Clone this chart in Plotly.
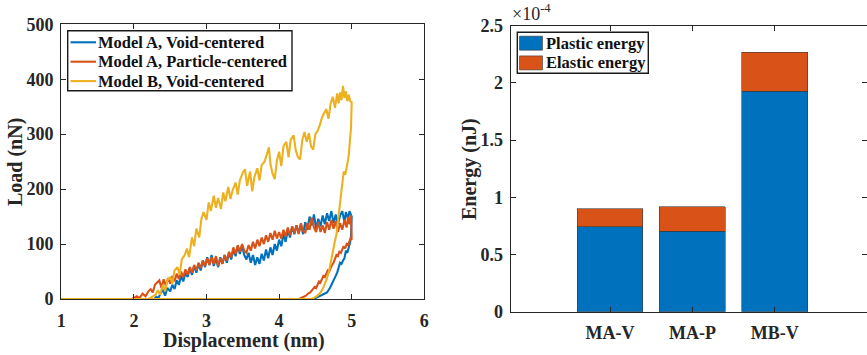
import plotly.graph_objects as go

# ---------------- Left panel data (Load vs Displacement) ----------------
mav_x = [1.0, 2.28, 2.31, 2.34, 2.37, 2.40, 2.43, 2.46, 2.50, 2.53, 2.56, 2.59, 2.62, 2.65, 2.68, 2.71, 2.74, 2.77, 2.80, 2.83, 2.86, 2.89, 2.92, 2.95, 2.98, 3.01, 3.04, 3.07, 3.10, 3.13, 3.16, 3.19, 3.22, 3.25, 3.28, 3.31, 3.34, 3.37, 3.40, 3.43, 3.46, 3.49, 3.52, 3.55, 3.58, 3.61, 3.64, 3.67, 3.70, 3.73, 3.76, 3.79, 3.82, 3.85, 3.88, 3.91, 3.94, 3.97, 4.00, 4.03, 4.06, 4.09, 4.12, 4.15, 4.18, 4.21, 4.24, 4.27, 4.30, 4.33, 4.36, 4.39, 4.42, 4.45, 4.48, 4.51, 4.54, 4.57, 4.60, 4.63, 4.66, 4.69, 4.72, 4.75, 4.78, 4.81, 4.84, 4.87, 4.90, 4.92, 4.95, 4.97, 5.00,
         5.00, 4.99, 4.98, 4.96, 4.94, 4.92, 4.90, 4.88, 4.86, 4.84, 4.82, 4.80, 4.78, 4.76, 4.74, 4.72, 4.70, 4.68, 4.66, 4.63, 4.60, 4.57, 4.54, 4.51, 4.47, 1.0]
mav_y = [0, 0, 4, 2, 12, 16, 6, 20, 14, 26, 18, 34, 26, 42, 32, 48, 40, 56, 44, 60, 48, 64, 52, 70, 58, 76, 62, 80, 60, 74, 58, 76, 64, 80, 66, 84, 72, 90, 78, 96, 82, 98, 80, 72, 84, 66, 80, 62, 76, 64, 82, 70, 90, 74, 94, 80, 100, 88, 108, 96, 118, 104, 126, 112, 132, 118, 134, 120, 136, 118, 140, 126, 150, 134, 154, 128, 146, 132, 152, 136, 156, 142, 160, 138, 154, 136, 152, 160, 140, 158, 146, 160, 150,
         130, 112, 104, 96, 84, 88, 74, 70, 64, 66, 54, 48, 42, 36, 30, 24, 20, 16, 12, 10, 8, 5, 4, 2, 0, 0]

map_x = [1.0, 1.97, 2.00, 2.04, 2.08, 2.12, 2.16, 2.20, 2.23, 2.26, 2.29, 2.32, 2.35, 2.38, 2.41, 2.44, 2.47, 2.50, 2.53, 2.56, 2.59, 2.62, 2.65, 2.68, 2.71, 2.74, 2.77, 2.80, 2.83, 2.86, 2.89, 2.92, 2.95, 2.98, 3.01, 3.04, 3.07, 3.10, 3.13, 3.16, 3.19, 3.22, 3.25, 3.28, 3.31, 3.34, 3.37, 3.40, 3.43, 3.46, 3.49, 3.52, 3.55, 3.58, 3.61, 3.64, 3.67, 3.70, 3.73, 3.76, 3.79, 3.82, 3.85, 3.88, 3.91, 3.94, 3.97, 4.00, 4.03, 4.06, 4.09, 4.12, 4.15, 4.18, 4.21, 4.24, 4.27, 4.30, 4.33, 4.36, 4.39, 4.42, 4.45, 4.48, 4.51, 4.54, 4.57, 4.60, 4.63, 4.66, 4.69, 4.72, 4.75, 4.78, 4.81, 4.84, 4.87, 4.90, 4.93, 4.95, 4.97, 4.99, 5.00, 5.00,
         4.99, 4.97, 4.95, 4.93, 4.91, 4.89, 4.87, 4.85, 4.83, 4.81, 4.79, 4.77, 4.75, 4.73, 4.71, 4.69, 4.67, 4.65, 4.63, 4.61, 4.59, 4.57, 4.55, 4.53, 4.51, 4.49, 4.46, 4.43, 4.40, 4.37, 4.34, 4.31, 4.27, 1.0]
map_y = [0, 0, 2, 5, 2, 10, 5, 14, 18, 12, 26, 30, 34, 20, 36, 24, 38, 28, 42, 32, 46, 36, 50, 40, 54, 44, 58, 48, 62, 52, 66, 56, 70, 60, 74, 62, 76, 64, 78, 60, 74, 64, 80, 70, 86, 76, 94, 82, 98, 86, 100, 88, 84, 98, 88, 104, 92, 108, 96, 112, 100, 116, 104, 120, 108, 124, 110, 122, 110, 126, 114, 130, 116, 132, 120, 134, 118, 138, 124, 120, 138, 126, 148, 130, 122, 140, 122, 134, 120, 140, 126, 144, 128, 142, 122, 138, 126, 144, 130, 150, 136, 152, 118, 108,
         112, 104, 98, 100, 92, 96, 88, 84, 86, 78, 80, 72, 66, 62, 56, 50, 52, 44, 40, 42, 34, 30, 32, 24, 20, 22, 16, 12, 10, 6, 4, 2, 0, 0]

mbv_x = [1.0, 2.20, 2.25, 2.30, 2.33, 2.36, 2.40, 2.43, 2.46, 2.50, 2.53, 2.56, 2.60, 2.63, 2.66, 2.70, 2.73, 2.76, 2.80, 2.83, 2.86, 2.90, 2.93, 2.96, 3.00, 3.03, 3.06, 3.10, 3.13, 3.16, 3.20, 3.23, 3.26, 3.30, 3.33, 3.36, 3.40, 3.43, 3.46, 3.50, 3.53, 3.56, 3.60, 3.63, 3.66, 3.70, 3.73, 3.76, 3.80, 3.83, 3.86, 3.88, 3.91, 3.94, 3.97, 4.00, 4.03, 4.06, 4.10, 4.13, 4.16, 4.20, 4.23, 4.26, 4.29, 4.32, 4.35, 4.38, 4.41, 4.44, 4.47, 4.50, 4.53, 4.56, 4.59, 4.62, 4.65, 4.68, 4.71, 4.74, 4.77, 4.80, 4.82, 4.84, 4.86, 4.88, 4.90, 4.92, 4.94, 4.96, 4.98, 5.00,
         5.00, 4.99, 4.98, 4.96, 4.94, 4.93, 4.91, 4.89, 4.87, 4.85, 4.83, 4.81, 4.79, 4.77, 4.75, 4.73, 4.71, 4.69, 4.66, 4.63, 4.60, 4.56, 4.52, 4.48, 4.44, 1.0]
mbv_y = [0, 0, 4, 8, 16, 8, 26, 14, 34, 40, 28, 52, 58, 44, 72, 80, 92, 76, 112, 96, 128, 112, 146, 158, 144, 176, 160, 188, 166, 184, 164, 194, 178, 204, 182, 198, 212, 190, 216, 230, 236, 206, 232, 196, 222, 238, 216, 244, 250, 264, 276, 246, 228, 218, 252, 268, 242, 278, 286, 258, 290, 298, 270, 258, 254, 290, 304, 286, 302, 278, 272, 300, 306, 316, 330, 338, 346, 328, 356, 368, 348, 374, 356, 376, 362, 388, 366, 378, 360, 372, 360, 358,
         340, 310, 296, 262, 246, 240, 226, 232, 210, 178, 160, 134, 118, 106, 92, 78, 64, 52, 38, 26, 18, 10, 5, 2, 0, 0]

# ---------------- Right panel data (Energy bars) ----------------
categories = ["MA-V", "MA-P", "MB-V"]
cat_pos = [1, 2, 3]
plastic_energy = [0.743e-4, 0.705e-4, 1.929e-4]
elastic_energy = [0.155e-4, 0.213e-4, 0.338e-4]

left_xticks = [1, 2, 3, 4, 5, 6]
left_yticks = [0, 100, 200, 300, 400, 500]
right_yticks = [0, 0.5e-4, 1e-4, 1.5e-4, 2e-4, 2.5e-4]
right_yticktext = ["0", "0.5", "1", "1.5", "2", "2.5"]

line_names = ["Model A, Void-centered", "Model A, Particle-centered", "Model B, Void-centered"]
bar_names = ["Plastic energy", "Elastic energy"]

BLUE = "#0072BD"
ORANGE = "#D95319"
YELLOW = "#EDB120"
FONT = "Liberation Serif, Times New Roman, serif"
AX = "#262626"
W, H = 867, 355


def px(x):
    return x / W


def py(y):
    return 1 - y / H


fig = go.Figure()
line_colors = [BLUE, ORANGE, YELLOW]
for xs, ys, name, col in zip([mav_x, map_x, mbv_x], [mav_y, map_y, mbv_y], line_names, line_colors):
    fig.add_trace(go.Scatter(x=xs, y=ys, mode="lines", name=name,
                             line=dict(color=col, width=2.1),
                             xaxis="x", yaxis="y", showlegend=False))

bar_colors = [BLUE, ORANGE]
for vals, name, col in zip([plastic_energy, elastic_energy], bar_names, bar_colors):
    fig.add_trace(go.Bar(x=cat_pos, y=vals, name=name,
                         marker=dict(color=col, line=dict(color="#3a3a3a", width=0.6)),
                         width=0.8, xaxis="x2", yaxis="y2", showlegend=False))

tickfont = dict(family=FONT, size=18, color="#262626", weight="bold")
axcommon = dict(showline=True, linecolor=AX, linewidth=1.3, mirror="ticks",
                ticks="inside", ticklen=5, tickcolor=AX, tickwidth=1.2,
                showgrid=False, zeroline=False, tickfont=tickfont, automargin=False)

fig.update_layout(
    width=W, height=H,
    margin=dict(l=0, r=0, t=0, b=0, autoexpand=False),
    paper_bgcolor="white", plot_bgcolor="white",
    barmode="stack",
    font=dict(family=FONT, color="#262626"),
    showlegend=False,
    xaxis=dict(domain=[px(61.3), px(424.3)], range=[1, 6], tickvals=left_xticks,
               anchor="y", ticklabelstandoff=5, **axcommon),
    yaxis=dict(domain=[py(299), py(24.3)], range=[0, 500], tickvals=left_yticks,
               anchor="x", ticklabelstandoff=3, **axcommon),
    xaxis2=dict(domain=[px(510.7), 1.0], range=[-0.206, 4.12], tickvals=cat_pos,
                ticktext=categories, anchor="y2", ticklabelstandoff=5, **axcommon),
    yaxis2=dict(domain=[py(311.7), py(25.7)], range=[0, 2.5e-4], tickvals=right_yticks,
                ticktext=right_yticktext, anchor="x2", ticklabelstandoff=3, **axcommon),
)

legfont = dict(family=FONT, size=16.5, color="#111", weight="bold")

# ---- left legend box (drawn manually to match layout) ----
fig.add_shape(type="rect", xref="paper", yref="paper",
              x0=px(67.7), x1=px(292), y0=py(90.7), y1=py(30.7),
              fillcolor="white", line=dict(color="#1a1a1a", width=1.4), layer="above")
for i, (name, col) in enumerate(zip(line_names, line_colors)):
    yc = 42.3 + i * 19.4
    fig.add_shape(type="line", xref="paper", yref="paper",
                  x0=px(70.5), x1=px(96), y0=py(yc), y1=py(yc),
                  line=dict(color=col, width=2.1), layer="above")
    fig.add_annotation(text=name, xref="paper", yref="paper", x=px(96), y=py(yc),
                       xanchor="left", yanchor="middle", showarrow=False, font=legfont)

# ---- right legend box ----
fig.add_shape(type="rect", xref="paper", yref="paper",
              x0=px(517.3), x1=px(648.3), y0=py(73.3), y1=py(32.3),
              fillcolor="white", line=dict(color="#1a1a1a", width=1.4), layer="above")
for i, (name, col) in enumerate(zip(bar_names, bar_colors)):
    yc = 43.2 + i * 19.7
    fig.add_shape(type="rect", xref="paper", yref="paper",
                  x0=px(519.5), x1=px(542.5), y0=py(yc + 7), y1=py(yc - 7),
                  fillcolor=col, line=dict(color="#3a3a3a", width=0.6), layer="above")
    fig.add_annotation(text=name, xref="paper", yref="paper", x=px(543.5), y=py(yc),
                       xanchor="left", yanchor="middle", showarrow=False, font=legfont)

titlefont = dict(family=FONT, size=20, color="#262626", weight="bold")
fig.add_annotation(text="Load (nN)", xref="paper", yref="paper",
                   x=px(15), y=py(162), textangle=-90, showarrow=False,
                   font=titlefont, xanchor="center", yanchor="middle")
fig.add_annotation(text="Displacement (nm)", xref="paper", yref="paper",
                   x=px(243.5), y=py(340), showarrow=False,
                   font=titlefont, xanchor="center", yanchor="middle")
fig.add_annotation(text="Energy (nJ)", xref="paper", yref="paper",
                   x=px(469), y=py(169), textangle=-90, showarrow=False,
                   font=titlefont, xanchor="center", yanchor="middle")
fig.add_annotation(text="×10<sup>-4</sup>", xref="paper", yref="paper",
                   x=px(510), y=py(26), showarrow=False,
                   font=dict(family=FONT, size=18, color="#262626"),
                   xanchor="left", yanchor="bottom")

fig.write_html("out.html")
